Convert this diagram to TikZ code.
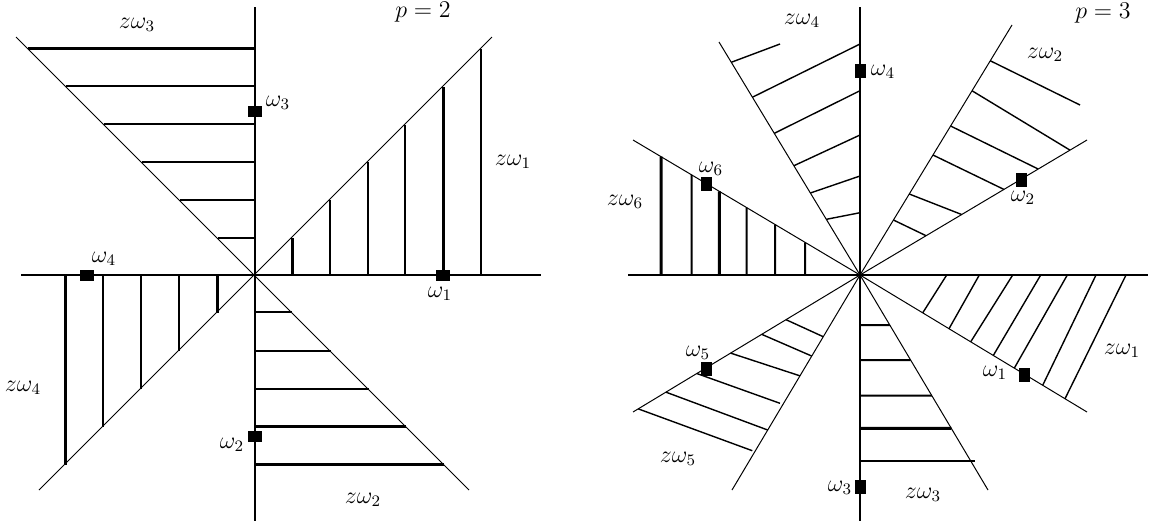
\documentclass[tikz,border=0pt]{standalone}
\usetikzlibrary{calc}
\begin{document}
\begin{tikzpicture}[x=0.5pt,y=-0.5pt,
  axis/.style={line width=1.3pt},
  ray/.style={line width=0.5pt},
  hatch/.style={line width=1pt},
  bighatch/.style={line width=1.5pt},
  finehatch/.style={line width=0.7pt},
  rootbox/.style={fill=black,draw=none},
  lbl/.style={inner sep=0pt,font=\fontsize{12}{14}\selectfont}]
\useasboundingbox (0,0) rectangle (1156,527);
% ================= left picture (p=2) =================
\coordinate (O1) at (255,275);
\coordinate (L1t) at (255,7);   \coordinate (L1b) at (255,521);
\coordinate (L1l) at (21,275);  \coordinate (L1r) at (541,275);
\coordinate (D1a) at (16,37);   \coordinate (D1b) at (469,490);
\coordinate (D1c) at (492,37);  \coordinate (D1d) at (39,490);
\draw[axis] (L1t) -- (L1b);
\draw[axis] (L1l) -- (L1r);
\draw[ray] (D1a) -- (D1b);
\draw[ray] (D1c) -- (D1d);
% upper left: horizontal hatching
\foreach \d/\s in {37/hatch,75/hatch,113/hatch,151/hatch,189/hatch,227/bighatch}
  \draw[\s] ($(O1)+(-\d,-\d)$) -- ($(O1)+(0,-\d)$);
% upper right: vertical hatching
\foreach \d/\s in {37/bighatch,75/hatch,113/hatch,150/hatch,188/bighatch,226/hatch}
  \draw[\s] ($(O1)+(\d,0)$) -- ($(O1)+(\d,-\d)$);
% lower left: vertical hatching
\foreach \d/\s in {38/bighatch,76/hatch,114/hatch,152/hatch,190/bighatch}
  \draw[\s] ($(O1)+(-\d,0)$) -- ($(O1)+(-\d,\d)$);
% lower right: horizontal hatching
\foreach \d/\s in {37/hatch,76/hatch,114/hatch,151/bighatch,189/bighatch}
  \draw[\s] ($(O1)+(0,\d)$) -- ($(O1)+(\d,\d)$);
% roots
\foreach \p in {(443,275),(255,436),(255,111),(87,275)}
  \fill[rootbox] \p ++(-7,-5.5) rectangle ++(14,11);
% labels
\node[lbl] (a1) at (137,25) {$z\omega_3$};
\node[lbl] (a2) at (423,12) {$p=2$};
\node[lbl] (a3) at (513,162) {$z\omega_1$};
\node[lbl] (a4) at (23,388) {$z\omega_4$};
\node[lbl] (a5) at (363,500) {$z\omega_2$};
\node[lbl] (a6) at (440,294) {$\omega_1$};
\node[lbl] (a7) at (232,445) {$\omega_2$};
\node[lbl] (a8) at (278,103) {$\omega_3$};
\node[lbl] (a9) at (104,259) {$\omega_4$};
% ================= right picture (p=3) =================
\coordinate (O2) at (860,275);
\coordinate (V2t) at (860,7);   \coordinate (V2b) at (860,521);
\coordinate (H2l) at (628,275); \coordinate (H2r) at (1148,275);
\coordinate (R30) at (1087,140);
\coordinate (R60) at (1012,25);
\coordinate (R120) at (719,42);
\coordinate (R150) at (633,140);
\coordinate (R210) at (633,412);
\coordinate (R240) at (732,490);
\coordinate (R300) at (988,490);
\coordinate (R330) at (1087,412);
\draw[axis] (V2t) -- (V2b);
\draw[axis] (H2l) -- (H2r);
\foreach \r in {R30,R60,R120,R150,R210,R240,R300,R330}
  \draw[ray] (O2) -- (\r);
% z omega_2 sector (between 30 and 60 degrees)
\foreach \a/\b in {0.22/0.291,0.324/0.448,0.48/0.634,0.596/0.785,0.737/0.925}
  \draw[finehatch] ($(O2)!\a!(R60)$) -- ($(O2)!\b!(R30)$);
\draw[finehatch] ($(O2)!0.857!(R60)$) -- (1080,105);
% z omega_4 sector (between 90 and 120 degrees)
\draw[finehatch] ($(O2)!0.913!(R120)$) -- (780,44);
\foreach \a/\y in {0.763/44,0.608/90.7,0.469/135,0.352/176,0.239/212.7}
  \draw[finehatch] ($(O2)!\a!(R120)$) -- (860,\y);
% z omega_6 sector (between 150 and 180 degrees)
\foreach \x/\s in {661/bighatch,691.7/hatch,719.3/bighatch,746.7/hatch,775/hatch,805/hatch}
  \draw[\s] (\x,275) -- ($(O2)!{(860-\x)/227}!(R150)$);
% z omega_5 sector (between 210 and 240 degrees)
\draw[finehatch] ($(O2)!0.326!(R210)$) -- ($(O2)!0.287!(R240)$);
\draw[finehatch] ($(O2)!0.433!(R210)$) -- ($(O2)!0.377!(R240)$);
\draw[finehatch] ($(O2)!0.570!(R210)$) -- ($(O2)!0.469!(R240)$);
\draw[finehatch] ($(O2)!0.719!(R210)$) -- (780,403.3);
\draw[finehatch] ($(O2)!0.855!(R210)$) -- ($(O2)!0.721!(R240)$);
\draw[finehatch] ($(O2)!0.977!(R210)$) -- (752.3,450.7);
% z omega_3 sector (between 270 and 300 degrees)
\foreach \y/\s in {325/hatch,360/hatch,395.7/hatch,428.3/bighatch}
  \draw[\s] (860,\y) -- ($(O2)!{(\y-275)/215}!(R300)$);
\draw[hatch] (860,460.7) -- (975,460.7);
% z omega_1 sector (between 330 and 360 degrees)
\foreach \x/\e in {922.7/946.7,949/979.3,970.7/1012.7,993.3/1040.7,1014.3/1067.3,1042.7/1096,1065/1126}
  \draw[finehatch] ($(O2)!{(\x-860)/227}!(R330)$) -- (\e,275);
% roots
\foreach \p in {(860,70.7),(1021.7,180),(706.7,184),(706.7,369),(860,486.7),(1024.3,375)}
  \fill[rootbox] \p ++(-5.5,-7) rectangle ++(11,14);
% labels
\node[lbl] (b1) at (1103,13) {$p=3$};
\node[lbl] (b2) at (1045,55) {$z\omega_2$};
\node[lbl] (b3) at (1023,198) {$\omega_2$};
\node[lbl] (b4) at (883,72) {$\omega_4$};
\node[lbl] (b5) at (802,21) {$z\omega_4$};
\node[lbl] (b6) at (711,169) {$\omega_6$};
\node[lbl] (b7) at (625,202) {$z\omega_6$};
\node[lbl] (b8) at (698,353) {$\omega_5$};
\node[lbl] (b9) at (678,459) {$z\omega_5$};
\node[lbl] (b10) at (840,488) {$\omega_3$};
\node[lbl] (b11) at (923,495) {$z\omega_3$};
\node[lbl] (b12) at (995,373) {$\omega_1$};
\node[lbl] (b13) at (1122,351) {$z\omega_1$};
\end{tikzpicture}
\end{document}
